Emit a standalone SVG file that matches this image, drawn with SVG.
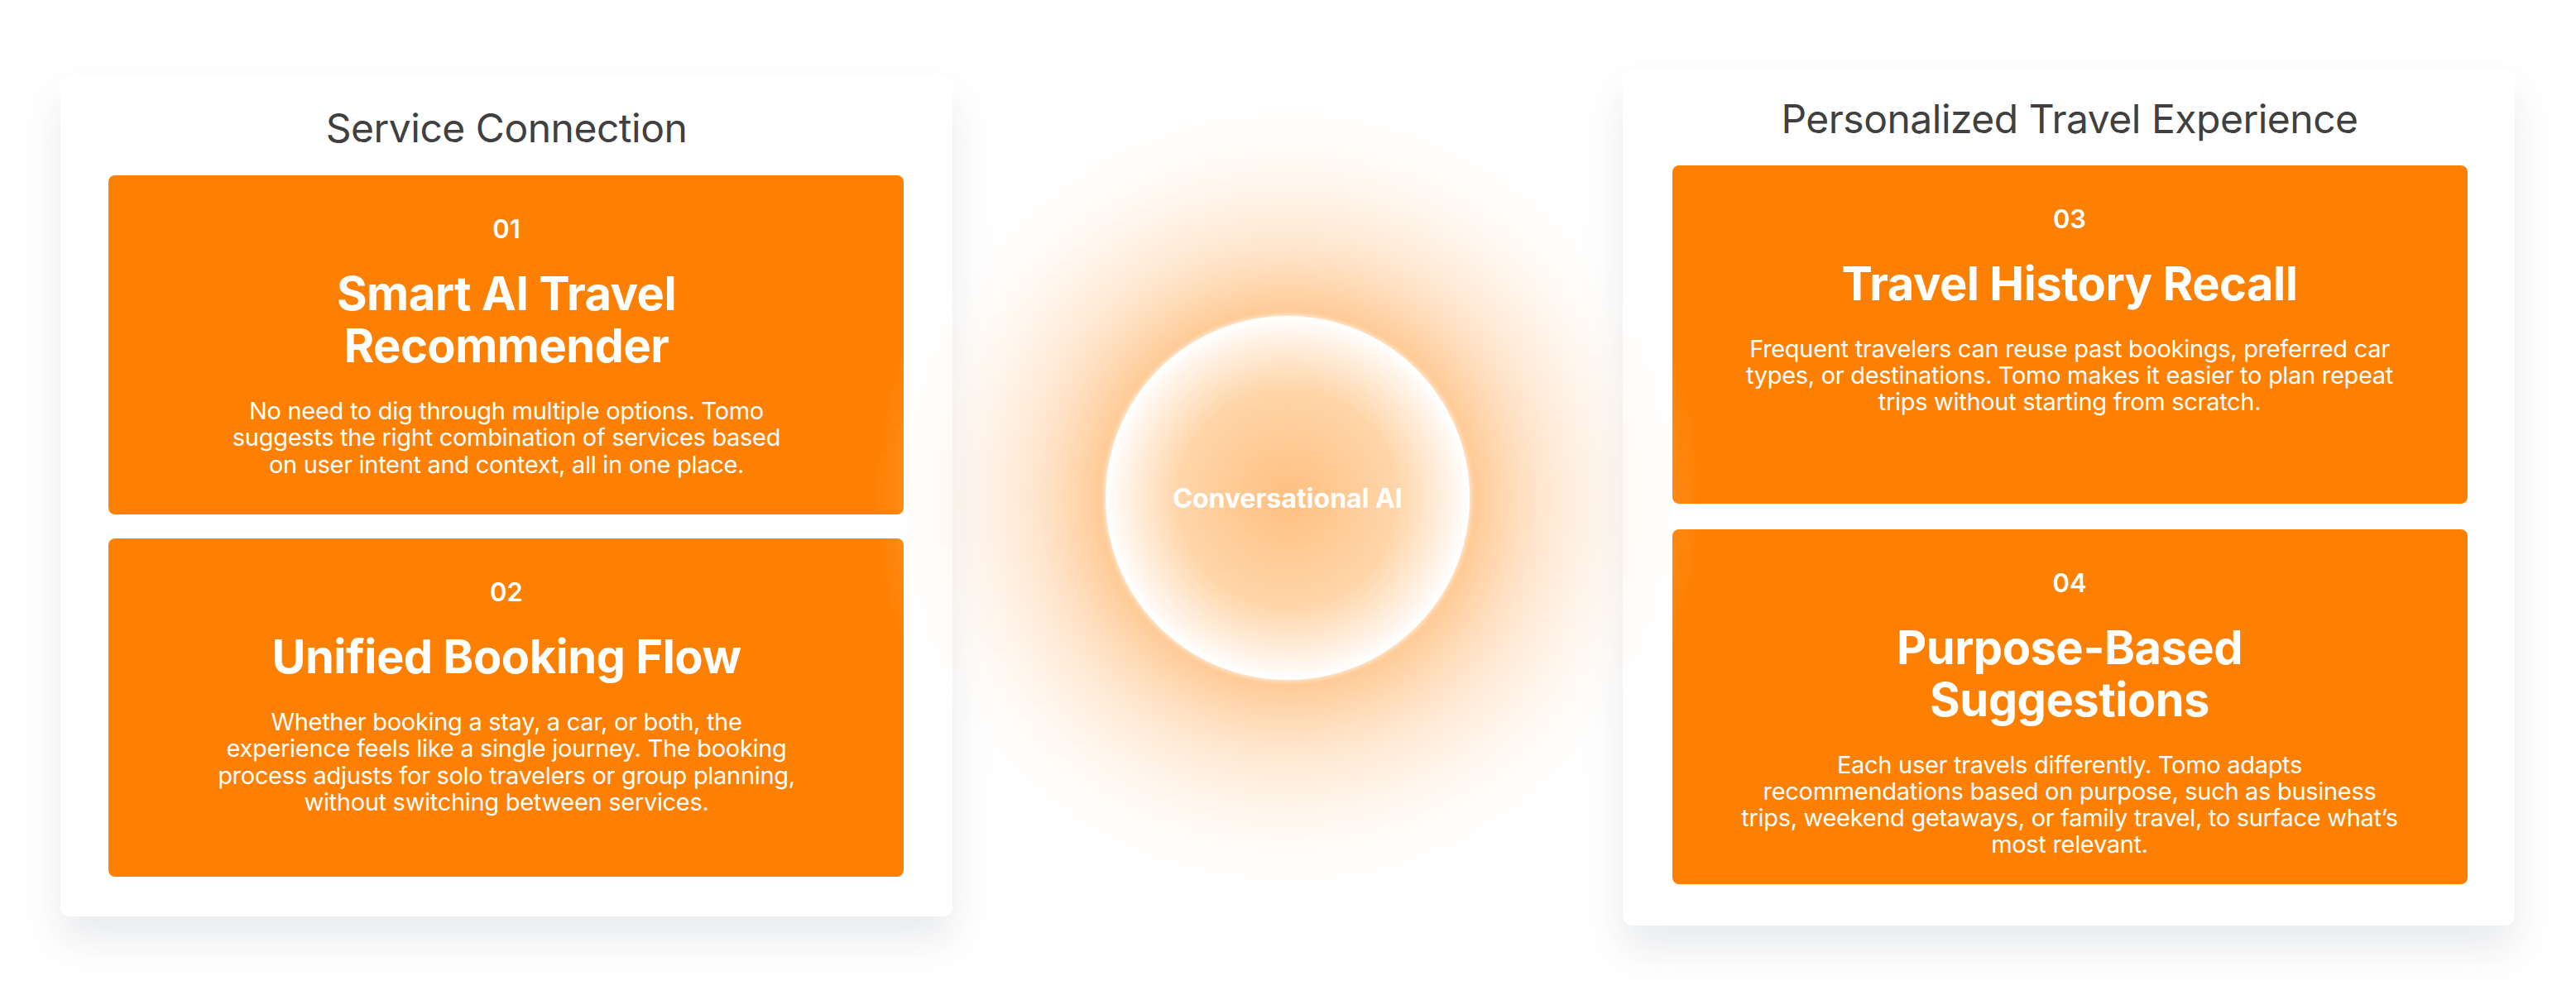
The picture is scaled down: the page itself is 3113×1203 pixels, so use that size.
<svg xmlns="http://www.w3.org/2000/svg" width="3113" height="1203" viewBox="0 0 3113 1203">
<defs>
<filter id="sh" x="-10%" y="-10%" width="120%" height="130%"><feDropShadow dx="0" dy="28" stdDeviation="24" flood-color="#9aa3ad" flood-opacity="0.22"/></filter>
<radialGradient id="glow" cx="0.5" cy="0.5" r="0.5"><stop offset="0.4" stop-color="#ffb56a" stop-opacity="0.85"/><stop offset="0.6" stop-color="#ffc48c" stop-opacity="0.45"/><stop offset="1" stop-color="#fff" stop-opacity="0"/></radialGradient>
<radialGradient id="core" cx="0.5" cy="0.5" r="0.5"><stop offset="0" stop-color="#ffbf80"/><stop offset="0.6" stop-color="#ffd6aa"/><stop offset="0.92" stop-color="#fff6ee"/><stop offset="1" stop-color="#ffffff"/></radialGradient>
<filter id="bl"><feGaussianBlur stdDeviation="3"/></filter>
</defs>
<style>
.panel{fill:#fff}
.card{fill:#fe8002}
.ptitle{font-family:Inter,"Liberation Sans",sans-serif;font-size:48px;fill:#404040;text-anchor:middle;letter-spacing:-0.5px}
.num{font-family:Inter,"Liberation Sans",sans-serif;font-size:31px;font-weight:600;fill:#fff;text-anchor:middle}
.ctitle{font-family:Inter,"Liberation Sans",sans-serif;font-size:56px;font-weight:700;fill:#fff;text-anchor:middle;letter-spacing:-0.5px}
.body{font-family:Inter,"Liberation Sans",sans-serif;font-size:29px;fill:#fff;text-anchor:middle;letter-spacing:-0.3px}
.ai{font-family:Inter,"Liberation Sans",sans-serif;font-size:32px;font-weight:700;fill:#fff;text-anchor:middle}
</style>
<rect width="3113" height="1203" fill="#fff"/>
<g id="left-panel">
<rect class="panel" x="73" y="90" width="1078" height="1018" rx="12" filter="url(#sh)"/>
<text class="ptitle" x="612" y="172">Service Connection</text>
</g>
<g id="card-01">
<rect class="card" x="131" y="212" width="961" height="410" rx="8"/>
<text class="num" x="612" y="288">01</text>
<text class="ctitle" x="612" y="375">Smart AI Travel</text>
<text class="ctitle" x="612" y="438">Recommender</text>
<text class="body" x="612" y="507">No need to dig through multiple options. Tomo</text>
<text class="body" x="612" y="539">suggests the right combination of services based</text>
<text class="body" x="612" y="572">on user intent and context, all in one place.</text>
</g>
<g id="card-02">
<rect class="card" x="131" y="651" width="961" height="409" rx="8"/>
<text class="num" x="612" y="727">02</text>
<text class="ctitle" x="612" y="814">Unified Booking Flow</text>
<text class="body" x="612" y="883">Whether booking a stay, a car, or both, the</text>
<text class="body" x="612" y="915">experience feels like a single journey. The booking</text>
<text class="body" x="612" y="948">process adjusts for solo travelers or group planning,</text>
<text class="body" x="612" y="980">without switching between services.</text>
</g>
<g id="right-panel">
<rect class="panel" x="1961" y="83" width="1078" height="1036" rx="12" filter="url(#sh)"/>
<text class="ptitle" x="2501" y="161">Personalized Travel Experience</text>
</g>
<g id="card-03">
<rect class="card" x="2021" y="200" width="961" height="409" rx="8"/>
<text class="num" x="2501" y="276">03</text>
<text class="ctitle" x="2501" y="363">Travel History Recall</text>
<text class="body" x="2501" y="432">Frequent travelers can reuse past bookings, preferred car</text>
<text class="body" x="2501" y="464">types, or destinations. Tomo makes it easier to plan repeat</text>
<text class="body" x="2501" y="496">trips without starting from scratch.</text>
</g>
<g id="card-04">
<rect class="card" x="2021" y="640" width="961" height="429" rx="8"/>
<text class="num" x="2501" y="716">04</text>
<text class="ctitle" x="2501" y="803">Purpose-Based</text>
<text class="ctitle" x="2501" y="866">Suggestions</text>
<text class="body" x="2501" y="935">Each user travels differently. Tomo adapts</text>
<text class="body" x="2501" y="967">recommendations based on purpose, such as business</text>
<text class="body" x="2501" y="999">trips, weekend getaways, or family travel, to surface what’s</text>
<text class="body" x="2501" y="1031">most relevant.</text>
</g>
<g id="conversational-ai">
<circle cx="1556" cy="602" r="500" fill="url(#glow)"/>
<circle cx="1556" cy="602" r="220" fill="url(#core)"/>
<circle cx="1556" cy="602" r="218" fill="none" stroke="#fff" stroke-width="5" filter="url(#bl)"/>
<text class="ai" x="1556" y="614">Conversational AI</text>
</g>
<g id="connectors"/>
</svg>
